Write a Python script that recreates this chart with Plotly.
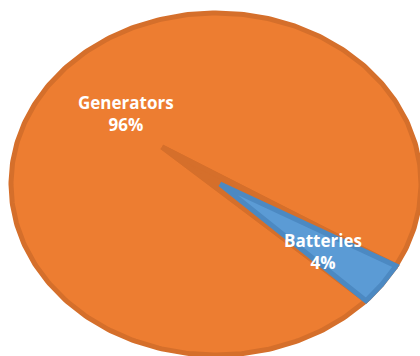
import numpy as np
import plotly.graph_objects as go

labels = ["Generators", "Batteries"]
values = [96, 4]
fills = ["#ED7D31", "#5B9BD5"]
edges = ["#D56F2B", "#4C89C2"]

# geometry (pixel space of the 420x356 page)
W, H = 420, 356
cx, cy = 216, 184
rx, ry = 205, 171
start_deg = 43.0          # parametric angle where the first slice starts (clockwise, y down)
apex_shift = [(-54, -37), (4, 0)]   # exploded apex offsets per slice
label_pos = [(126, 113), (323, 251)]

fig = go.Figure()
total = float(sum(values))
t0 = start_deg
spans = [360.0 * v / total for v in values]
for i, (lab, v) in enumerate(zip(labels, values)):
    span = spans[i]
    t = np.radians(np.linspace(t0, t0 + span, 400))
    ax_, ay_ = cx + apex_shift[i][0], cy + apex_shift[i][1]
    xs = np.concatenate([[ax_], cx + rx * np.cos(t), [ax_]])
    ys = np.concatenate([[ay_], cy + ry * np.sin(t), [ay_]])
    if i == 1:
        # darker side face of the exploded Generators slice, visible in the notch
        gx, gy = cx + apex_shift[0][0], cy + apex_shift[0][1]
        fig.add_trace(go.Scatter(
            x=np.concatenate([[gx], cx + rx * np.cos(t), [gx]]),
            y=np.concatenate([[gy], cy + ry * np.sin(t), [gy]]),
            mode="lines", fill="toself", fillcolor=edges[0],
            line=dict(color=edges[0], width=5), hoverinfo="skip", showlegend=False))
    fig.add_trace(go.Scatter(
        x=xs, y=ys, mode="lines", fill="toself",
        fillcolor=fills[i], line=dict(color=edges[i], width=5),
        name=lab, hoverinfo="name", showlegend=False))
    pct = round(100 * v / total)
    fig.add_annotation(
        x=label_pos[i][0], y=label_pos[i][1], xref="x", yref="y",
        text=f"<b>{lab}<br>{pct}%</b>", showarrow=False,
        font=dict(family="Open Sans", size=17, color="white"), align="center")
    t0 += span

fig.update_layout(
    width=W, height=H, margin=dict(l=0, r=0, t=0, b=0),
    paper_bgcolor="white", plot_bgcolor="white", showlegend=False,
    xaxis=dict(range=[0, W], visible=False, fixedrange=True),
    yaxis=dict(range=[H, 0], visible=False, fixedrange=True),
)
fig.write_html("out.html")
